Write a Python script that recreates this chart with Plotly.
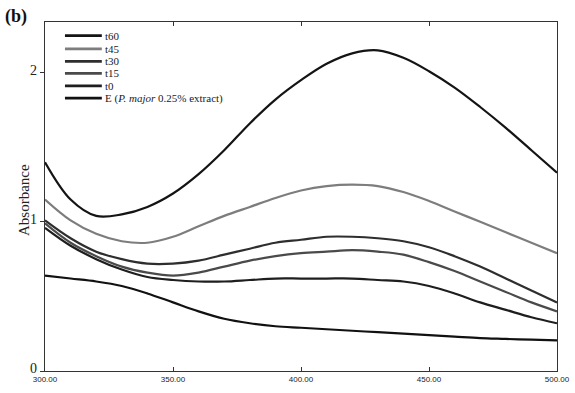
import plotly.graph_objects as go

# Wavelength grid (nm)
wavelength = [300, 310, 320, 330, 340, 350, 360, 370, 380, 390, 400,
              410, 420, 430, 440, 450, 460, 470, 480, 490, 500]

t60 = [1.40, 1.15, 1.04, 1.05, 1.10, 1.19, 1.32, 1.48, 1.66, 1.82, 1.95,
       2.06, 2.13, 2.15, 2.10, 2.01, 1.90, 1.77, 1.63, 1.48, 1.33]
t45 = [1.15, 1.01, 0.92, 0.87, 0.86, 0.90, 0.97, 1.04, 1.10, 1.16, 1.21,
       1.24, 1.25, 1.24, 1.20, 1.14, 1.07, 1.00, 0.93, 0.86, 0.79]
t30 = [1.01, 0.89, 0.80, 0.75, 0.72, 0.72, 0.74, 0.78, 0.82, 0.86, 0.88,
       0.90, 0.90, 0.89, 0.87, 0.83, 0.77, 0.70, 0.62, 0.54, 0.46]
t15 = [0.99, 0.86, 0.77, 0.70, 0.66, 0.64, 0.66, 0.70, 0.74, 0.77, 0.79,
       0.80, 0.81, 0.80, 0.78, 0.73, 0.67, 0.60, 0.53, 0.46, 0.40]
t0 = [0.96, 0.84, 0.75, 0.68, 0.63, 0.61, 0.60, 0.60, 0.61, 0.62, 0.62,
      0.62, 0.62, 0.61, 0.60, 0.57, 0.52, 0.46, 0.41, 0.36, 0.32]
E = [0.64, 0.62, 0.60, 0.57, 0.52, 0.46, 0.40, 0.35, 0.32, 0.30, 0.29,
     0.28, 0.27, 0.26, 0.25, 0.24, 0.23, 0.22, 0.215, 0.21, 0.205]

series_names = ["t60", "t45", "t30", "t15", "t0", "E (<i>P. major</i> 0.25% extract)"]
series_values = [t60, t45, t30, t15, t0, E]
series_colors = ["#141414", "#7d7d7d", "#2e2e2e", "#4a4a4a", "#1e1e1e", "#111111"]

x_tickvals = [300, 350, 400, 450, 500]
x_ticktext = ["300.00", "350.00", "400.00", "450.00", "500.00"]
y_tickvals = [0, 1, 2]
y_ticktext = ["0", "1", "2"]

serif = "Liberation Serif, Times New Roman, serif"

fig = go.Figure()
for name, vals, col in zip(series_names, series_values, series_colors):
    fig.add_trace(go.Scatter(x=wavelength, y=vals, mode="lines", name=name,
                             line=dict(color=col, width=2.2, shape="spline", smoothing=1.0),
                             showlegend=False, hoverinfo="skip"))

# Manual compact legend (inside top-left)
legend_rows_y = [0.961, 0.923, 0.887, 0.853, 0.817, 0.782]
for name, col, yy in zip(series_names, series_colors, legend_rows_y):
    fig.add_shape(type="line", xref="paper", yref="paper",
                  x0=0.039, x1=0.111, y0=yy, y1=yy,
                  line=dict(color=col, width=2.7))
    fig.add_annotation(xref="paper", yref="paper", x=0.113, y=yy,
                       text=name, showarrow=False, xanchor="left", yanchor="middle",
                       font=dict(family=serif, size=11, color="#1a1a1a"))

fig.add_annotation(xref="paper", yref="paper", x=-0.082, y=1.053,
                   text="<b>(b)</b>", showarrow=False, xanchor="left", yanchor="top",
                   font=dict(family=serif, size=18, color="#111111"))

# y-axis title placed as rotated text
fig.add_annotation(xref="paper", yref="paper", x=-0.041, y=0.49,
                   text="Absorbance", showarrow=False, textangle=-90,
                   xanchor="center", yanchor="middle",
                   font=dict(family=serif, size=15, color="#222"))

fig.update_layout(
    width=575, height=393,
    margin=dict(l=45, r=18, t=22, b=22, autoexpand=False),
    paper_bgcolor="white", plot_bgcolor="white",
    showlegend=False,
)
fig.update_xaxes(range=[300, 500], tickvals=x_tickvals, ticktext=x_ticktext,
                 ticks="inside", ticklen=4, tickcolor="#333", tickwidth=1,
                 showline=True, linecolor="#333", linewidth=1.3, mirror="ticks",
                 showgrid=False, zeroline=False, automargin=False,
                 tickfont=dict(family="Liberation Sans, Arial, sans-serif", size=8, color="#222"))
fig.update_yaxes(range=[0, 2.34], tickvals=y_tickvals, ticktext=y_ticktext,
                 ticks="outside", ticklen=4, tickcolor="#333", tickwidth=1,
                 showline=True, linecolor="#333", linewidth=1.3, mirror=True,
                 showgrid=False, zeroline=False, ticklabelshift=-3, automargin=False,
                 tickfont=dict(family=serif, size=14, color="#222"))

fig.write_html("out.html", config={"displayModeBar": False},
               post_script="document.body.style.margin='0';")
